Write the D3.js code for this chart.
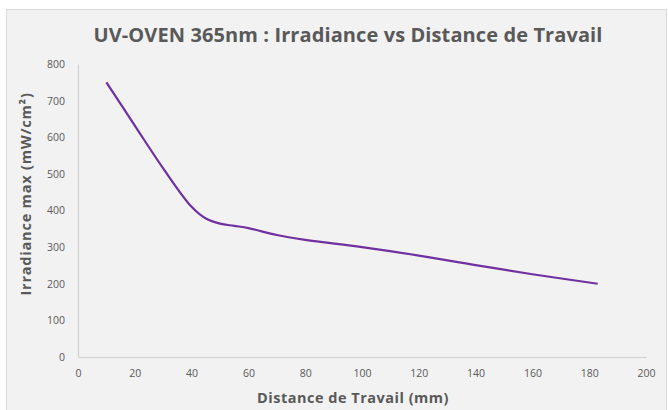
<!DOCTYPE html>
<html>
<head>
<meta charset="utf-8">
<script src="https://cdn.jsdelivr.net/npm/d3@7"></script>
<style>
  body { margin: 0; background: #ffffff; }
  svg { display: block; font-family: 'Open Sans', sans-serif; }
</style>
</head>
<body>
<svg id="chart" width="668" height="410"></svg>
<script>
// values
const distance = [10, 20, 30, 40, 45, 50, 55, 60, 70, 80, 100, 120, 140, 160, 183]
const irradiance = [750, 632, 515, 410, 378, 364, 358, 352, 333, 320, 300, 277, 251, 226, 200]
const xTicks = [0, 20, 40, 60, 80, 100, 120, 140, 160, 180, 200]
const yTicks = [0, 100, 200, 300, 400, 500, 600, 700, 800]

const svg = d3.select('#chart')
const textColor = '#595959'

// ------------------
// Frame + title
// ------------------
svg.append('rect')
  .attr('x', 6.5).attr('y', 9.5)
  .attr('width', 660).attr('height', 410)
  .attr('fill', '#f2f2f2')
  .attr('stroke', '#d9d9d9')

svg.append('text')
  .attr('x', 348).attr('y', 42)
  .attr('text-anchor', 'middle')
  .attr('font-size', 20)
  .attr('font-weight', 'bold')
  .attr('letter-spacing', 0.1)
  .attr('fill', textColor)
  .text('UV-OVEN 365nm : Irradiance vs Distance de Travail')

// ------------------
// Scales + axes
// ------------------
const x = d3.scaleLinear().domain([0, 200]).range([78, 646])
const y = d3.scaleLinear().domain([0, 800]).range([357, 64])

const xAxis = svg.append('g')
  .attr('transform', `translate(0,${y(0)})`)
  .call(d3.axisBottom(x).tickValues(xTicks).tickSize(0).tickPadding(13))
const yAxis = svg.append('g')
  .attr('transform', `translate(${x(0)},0)`)
  .call(d3.axisLeft(y).tickValues(yTicks).tickSize(0).tickPadding(13))

for (const ax of [xAxis, yAxis]) {
  ax.select('.domain').attr('stroke', '#d0d0d0').attr('stroke-width', 1.2)
  ax.selectAll('text')
    .attr('fill', textColor)
    .attr('font-size', 10.5)
    .attr('font-family', "'Open Sans', sans-serif")
}

// ------------------
// Axis titles
// ------------------
svg.append('text')
  .attr('x', 353).attr('y', 403)
  .attr('text-anchor', 'middle')
  .attr('font-size', 14.5)
  .attr('font-weight', 'bold')
  .attr('letter-spacing', 0.5)
  .attr('fill', textColor)
  .text('Distance de Travail (mm)')

svg.append('text')
  .attr('transform', 'translate(31,194) rotate(-90)')
  .attr('text-anchor', 'middle')
  .attr('font-size', 14.5)
  .attr('font-weight', 'bold')
  .attr('letter-spacing', 0.8)
  .attr('fill', textColor)
  .text('Irradiance max (mW/cm²)')

// ------------------
// Line
// ------------------
const pts = distance.map((d, i) => [d, irradiance[i]])
const line = d3.line()
  .x(d => x(d[0]))
  .y(d => y(d[1]))
  .curve(d3.curveCatmullRom.alpha(0.5))

svg.append('path')
  .datum(pts)
  .attr('d', line)
  .attr('fill', 'none')
  .attr('stroke', '#7030a0')
  .attr('stroke-width', 2.2)
</script>
</body>
</html>
